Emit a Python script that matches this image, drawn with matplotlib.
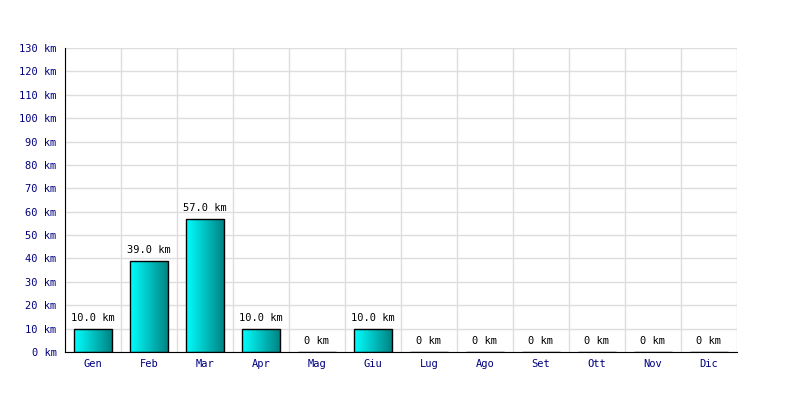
import numpy as np
import matplotlib
matplotlib.use('Agg')
import matplotlib.pyplot as plt
from matplotlib.colors import LinearSegmentedColormap

# Data
months = ['Gen', 'Feb', 'Mar', 'Apr', 'Mag', 'Giu', 'Lug', 'Ago', 'Set', 'Ott', 'Nov', 'Dic']
km = [10.0, 39.0, 57.0, 10.0, 0, 10.0, 0, 0, 0, 0, 0, 0]
y_ticks = list(range(0, 131, 10))

plt.rcParams['font.family'] = 'DejaVu Sans Mono'
fig = plt.figure(figsize=(8, 4), dpi=100)
ax = fig.add_axes([0.08125, 0.12, 0.84, 0.76])

x = np.arange(len(months))
bars = ax.bar(x, km, width=0.68, facecolor='none', edgecolor='black', linewidth=1.0, zorder=3)

# gradient fill clipped to each bar
cmap = LinearSegmentedColormap.from_list('cy', ['#00ffff', '#008080'])
grad = np.linspace(0, 1, 256).reshape(1, -1)
for b, v in zip(bars, km):
    if v <= 0:
        continue
    im = ax.imshow(grad, cmap=cmap, aspect='auto', zorder=2,
                   extent=[b.get_x(), b.get_x() + b.get_width(), 0, v])
    im.set_clip_path(b)

for xi, v in zip(x, km):
    label = '%.1f km' % v if v > 0 else '0 km'
    ax.annotate(label, (xi, v), xytext=(0, 4), textcoords='offset points',
                ha='center', va='bottom', fontsize=7.5, color='black')

ax.set_xlim(-0.5, len(months) - 0.5)
ax.set_ylim(0, 130)
ax.set_xticks(x)
ax.set_xticklabels(months)
ax.set_xticks(np.arange(len(months) + 1) - 0.5, minor=True)
ax.set_yticks(y_ticks)
ax.set_yticklabels(['%d km' % t for t in y_ticks])
ax.tick_params(axis='both', which='both', length=0, labelsize=7.5, labelcolor='#000080')
ax.tick_params(axis='y', pad=6)
ax.tick_params(axis='x', pad=5)

ax.grid(True, which='minor', axis='x', color='#dddddd', linewidth=1, zorder=0)
ax.grid(True, which='major', axis='y', color='#dddddd', linewidth=1, zorder=0)
ax.set_axisbelow(True)
for s in ['top', 'right']:
    ax.spines[s].set_visible(False)
ax.spines['left'].set_color('black')
ax.spines['bottom'].set_color('black')

plt.savefig('out.png', dpi=100)
